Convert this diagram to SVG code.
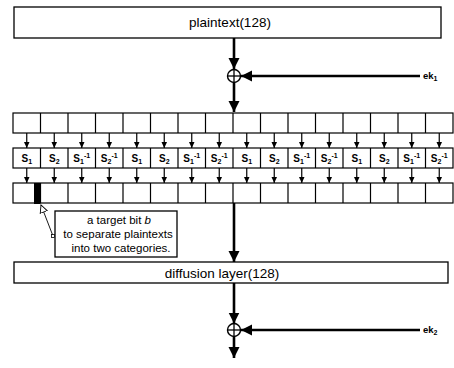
<svg xmlns="http://www.w3.org/2000/svg" width="454" height="368" viewBox="0 0 454 368">
<style>
.box{fill:#fff;stroke:#000;stroke-width:1.3}
.cell{fill:#fff;stroke:#000;stroke-width:1.2}
.main{stroke:#000;stroke-width:2.6;fill:none}
.thin{stroke:#000;stroke-width:1.2;fill:none}
.lbl{font-family:"Liberation Sans",Arial,sans-serif;font-size:13.5px;fill:#000}
.s{font-family:"Liberation Sans",Arial,sans-serif;font-size:10px;font-weight:bold;fill:#000}
.sub{font-size:7px}
.note{font-family:"Liberation Sans",Arial,sans-serif;font-size:11.5px;fill:#000}
.ek{font-family:"Liberation Sans",Arial,sans-serif;font-size:9.5px;font-weight:bold;fill:#000}
</style>
<defs>
<marker id="big" markerUnits="userSpaceOnUse" markerWidth="12" markerHeight="12" viewBox="0 0 12 12" refX="11" refY="6" orient="auto">
<path d="M0,0.5 L11,6 L0,11.5 Z" fill="#000"/>
</marker>
<marker id="small" markerUnits="userSpaceOnUse" markerWidth="7" markerHeight="7" viewBox="0 0 7 7" refX="6.5" refY="3.5" orient="auto">
<path d="M0,0.5 L6.5,3.5 L0,6.5 Z" fill="#000"/>
</marker>
<marker id="hollow" markerUnits="userSpaceOnUse" markerWidth="9" markerHeight="9" viewBox="0 0 9 9" refX="8" refY="4.5" orient="auto">
<path d="M0.5,0.8 L8,4.5 L0.5,8.2 Z" fill="#fff" stroke="#000" stroke-width="0.9"/>
</marker>
</defs>

<g id="plaintext">
<rect class="box" x="14" y="7" width="427" height="31"/>
<text class="lbl" x="230" y="27" text-anchor="middle">plaintext(128)</text>
</g>

<g id="xor1">
<circle cx="234" cy="76" r="6.5" fill="#fff" stroke="#000" stroke-width="1.4"/>
<line x1="234" y1="69.5" x2="234" y2="82.5" stroke="#000" stroke-width="1.3"/>
<line x1="227.5" y1="76" x2="240.5" y2="76" stroke="#000" stroke-width="1.3"/>
</g>
<g id="ek1">
<text class="ek" x="423" y="79">ek<tspan class="sub" dy="2">1</tspan></text>
</g>

<g id="input-row">
<rect class="cell" x="13" y="113" width="440" height="20"/>
<path class="thin" d="M40.5,113V133M68,113V133M95.5,113V133M123,113V133M150.5,113V133M178,113V133M205.5,113V133M233,113V133M260.5,113V133M288,113V133M315.5,113V133M343,113V133M370.5,113V133M398,113V133M425.5,113V133"/>
</g>

<g id="sbox-row">
<rect class="cell" x="13" y="148" width="440" height="20"/>
<path class="thin" d="M40.5,148V168M68,148V168M95.5,148V168M123,148V168M150.5,148V168M178,148V168M205.5,148V168M233,148V168M260.5,148V168M288,148V168M315.5,148V168M343,148V168M370.5,148V168M398,148V168M425.5,148V168"/>
<text class="s" x="26.75" y="162" text-anchor="middle">S<tspan class="sub" dy="2">1</tspan></text>
<text class="s" x="54.25" y="162" text-anchor="middle">S<tspan class="sub" dy="2">2</tspan></text>
<text class="s" x="81.75" y="162" text-anchor="middle">S<tspan class="sub" dy="2">1</tspan><tspan class="sub" dy="-6">-1</tspan></text>
<text class="s" x="109.25" y="162" text-anchor="middle">S<tspan class="sub" dy="2">2</tspan><tspan class="sub" dy="-6">-1</tspan></text>
<text class="s" x="136.75" y="162" text-anchor="middle">S<tspan class="sub" dy="2">1</tspan></text>
<text class="s" x="164.25" y="162" text-anchor="middle">S<tspan class="sub" dy="2">2</tspan></text>
<text class="s" x="191.75" y="162" text-anchor="middle">S<tspan class="sub" dy="2">1</tspan><tspan class="sub" dy="-6">-1</tspan></text>
<text class="s" x="219.25" y="162" text-anchor="middle">S<tspan class="sub" dy="2">2</tspan><tspan class="sub" dy="-6">-1</tspan></text>
<text class="s" x="246.75" y="162" text-anchor="middle">S<tspan class="sub" dy="2">1</tspan></text>
<text class="s" x="274.25" y="162" text-anchor="middle">S<tspan class="sub" dy="2">2</tspan></text>
<text class="s" x="301.75" y="162" text-anchor="middle">S<tspan class="sub" dy="2">1</tspan><tspan class="sub" dy="-6">-1</tspan></text>
<text class="s" x="329.25" y="162" text-anchor="middle">S<tspan class="sub" dy="2">2</tspan><tspan class="sub" dy="-6">-1</tspan></text>
<text class="s" x="356.75" y="162" text-anchor="middle">S<tspan class="sub" dy="2">1</tspan></text>
<text class="s" x="384.25" y="162" text-anchor="middle">S<tspan class="sub" dy="2">2</tspan></text>
<text class="s" x="411.75" y="162" text-anchor="middle">S<tspan class="sub" dy="2">1</tspan><tspan class="sub" dy="-6">-1</tspan></text>
<text class="s" x="439.25" y="162" text-anchor="middle">S<tspan class="sub" dy="2">2</tspan><tspan class="sub" dy="-6">-1</tspan></text>
</g>

<g id="output-row">
<rect class="cell" x="13" y="183" width="440" height="20"/>
<path class="thin" d="M40.5,183V203M68,183V203M95.5,183V203M123,183V203M150.5,183V203M178,183V203M205.5,183V203M233,183V203M260.5,183V203M288,183V203M315.5,183V203M343,183V203M370.5,183V203M398,183V203M425.5,183V203"/>
<rect id="target-bit" x="34" y="183" width="6.5" height="21" fill="#000"/>
</g>

<g id="note">
<rect class="box" x="55" y="211" width="122" height="46" stroke-width="1.2"/>
<text class="note" x="119" y="224" text-anchor="middle">a target bit <tspan font-style="italic">b</tspan></text>
<text class="note" x="118" y="238" text-anchor="middle">to separate plaintexts</text>
<text class="note" x="121" y="252" text-anchor="middle">into two categories.</text>
</g>

<g id="diffusion">
<rect class="box" x="14" y="262" width="434" height="21"/>
<text class="lbl" x="222" y="278" text-anchor="middle">diffusion layer(128)</text>
</g>

<g id="xor2">
<circle cx="234" cy="330" r="6.5" fill="#fff" stroke="#000" stroke-width="1.4"/>
<line x1="234" y1="323.5" x2="234" y2="336.5" stroke="#000" stroke-width="1.3"/>
<line x1="227.5" y1="330" x2="240.5" y2="330" stroke="#000" stroke-width="1.3"/>
</g>
<g id="ek2">
<text class="ek" x="423" y="333">ek<tspan class="sub" dy="2">2</tspan></text>
</g>

<g id="connectors">
<line class="main" x1="234" y1="38" x2="234" y2="69" marker-end="url(#big)"/>
<line class="main" x1="420" y1="76" x2="241" y2="76" marker-end="url(#big)"/>
<line class="main" x1="234" y1="82.5" x2="234" y2="112" marker-end="url(#big)"/>
<line class="thin" x1="26.75" y1="133" x2="26.75" y2="148" marker-end="url(#small)"/>
<line class="thin" x1="54.25" y1="133" x2="54.25" y2="148" marker-end="url(#small)"/>
<line class="thin" x1="81.75" y1="133" x2="81.75" y2="148" marker-end="url(#small)"/>
<line class="thin" x1="109.25" y1="133" x2="109.25" y2="148" marker-end="url(#small)"/>
<line class="thin" x1="136.75" y1="133" x2="136.75" y2="148" marker-end="url(#small)"/>
<line class="thin" x1="164.25" y1="133" x2="164.25" y2="148" marker-end="url(#small)"/>
<line class="thin" x1="191.75" y1="133" x2="191.75" y2="148" marker-end="url(#small)"/>
<line class="thin" x1="219.25" y1="133" x2="219.25" y2="148" marker-end="url(#small)"/>
<line class="thin" x1="246.75" y1="133" x2="246.75" y2="148" marker-end="url(#small)"/>
<line class="thin" x1="274.25" y1="133" x2="274.25" y2="148" marker-end="url(#small)"/>
<line class="thin" x1="301.75" y1="133" x2="301.75" y2="148" marker-end="url(#small)"/>
<line class="thin" x1="329.25" y1="133" x2="329.25" y2="148" marker-end="url(#small)"/>
<line class="thin" x1="356.75" y1="133" x2="356.75" y2="148" marker-end="url(#small)"/>
<line class="thin" x1="384.25" y1="133" x2="384.25" y2="148" marker-end="url(#small)"/>
<line class="thin" x1="411.75" y1="133" x2="411.75" y2="148" marker-end="url(#small)"/>
<line class="thin" x1="439.25" y1="133" x2="439.25" y2="148" marker-end="url(#small)"/>
<line class="thin" x1="26.75" y1="168" x2="26.75" y2="183" marker-end="url(#small)"/>
<line class="thin" x1="54.25" y1="168" x2="54.25" y2="183" marker-end="url(#small)"/>
<line class="thin" x1="81.75" y1="168" x2="81.75" y2="183" marker-end="url(#small)"/>
<line class="thin" x1="109.25" y1="168" x2="109.25" y2="183" marker-end="url(#small)"/>
<line class="thin" x1="136.75" y1="168" x2="136.75" y2="183" marker-end="url(#small)"/>
<line class="thin" x1="164.25" y1="168" x2="164.25" y2="183" marker-end="url(#small)"/>
<line class="thin" x1="191.75" y1="168" x2="191.75" y2="183" marker-end="url(#small)"/>
<line class="thin" x1="219.25" y1="168" x2="219.25" y2="183" marker-end="url(#small)"/>
<line class="thin" x1="246.75" y1="168" x2="246.75" y2="183" marker-end="url(#small)"/>
<line class="thin" x1="274.25" y1="168" x2="274.25" y2="183" marker-end="url(#small)"/>
<line class="thin" x1="301.75" y1="168" x2="301.75" y2="183" marker-end="url(#small)"/>
<line class="thin" x1="329.25" y1="168" x2="329.25" y2="183" marker-end="url(#small)"/>
<line class="thin" x1="356.75" y1="168" x2="356.75" y2="183" marker-end="url(#small)"/>
<line class="thin" x1="384.25" y1="168" x2="384.25" y2="183" marker-end="url(#small)"/>
<line class="thin" x1="411.75" y1="168" x2="411.75" y2="183" marker-end="url(#small)"/>
<line class="thin" x1="439.25" y1="168" x2="439.25" y2="183" marker-end="url(#small)"/>
<line class="main" x1="234" y1="203" x2="234" y2="262" marker-end="url(#big)"/>
<line class="main" x1="234" y1="283" x2="234" y2="323.5" marker-end="url(#big)"/>
<line class="main" x1="420" y1="330" x2="241" y2="330" marker-end="url(#big)"/>
<line class="main" x1="234" y1="336.5" x2="234" y2="358" marker-end="url(#big)"/>
<line x1="53" y1="236" x2="41" y2="205" stroke="#000" stroke-width="0.9" marker-end="url(#hollow)"/>
<rect x="51.5" y="234.5" width="3" height="3" fill="#fff" stroke="#000" stroke-width="0.8"/>
</g>
</svg>
